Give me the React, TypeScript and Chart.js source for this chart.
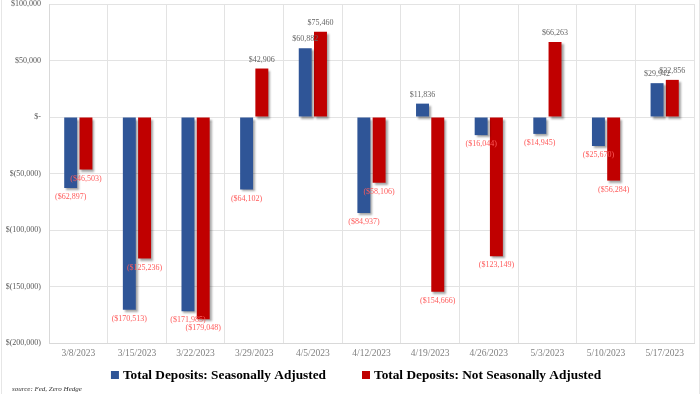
import React, { useEffect, useRef } from "react";
import { Chart, registerables } from "chart.js";

Chart.register(...registerables);

const categories = ["3/8/2023", "3/15/2023", "3/22/2023", "3/29/2023", "4/5/2023", "4/12/2023", "4/19/2023", "4/26/2023", "5/3/2023", "5/10/2023", "5/17/2023"];
const seasonallyAdjusted = [-62897, -170513, -171985, -64102, 60882, -84937, 11836, -16044, -14945, -25670, 29942];
const notSeasonallyAdjusted = [-46503, -125236, -179048, 42906, 75460, -58106, -154666, -123149, 66263, -56284, 32856];
const seriesNames = ["Total Deposits: Seasonally Adjusted", "Total Deposits: Not Seasonally Adjusted"];
const seriesColors = ["#2F5597", "#C00000"];
const sourceText = "source: Fed, Zero Hedge";

const SERIF = "'Liberation Serif', 'DejaVu Serif', serif";

const fmtTick = (v: number) => {
  if (v === 0) return "$-";
  const s = Math.abs(v).toLocaleString("en-US");
  return v < 0 ? `$(${s})` : `$${s}`;
};
const fmtLabel = (v: number) => {
  const s = Math.abs(v).toLocaleString("en-US");
  return v < 0 ? `($${s})` : `$${s}`;
};

const shadowPlugin = {
  id: "barShadow",
  beforeDatasetsDraw(chart: any) {
    const ctx = chart.ctx;
    ctx.save();
    ctx.shadowColor = "rgba(0,0,0,0.35)";
    ctx.shadowOffsetX = 2;
    ctx.shadowOffsetY = 2;
    ctx.shadowBlur = 2;
  },
  afterDatasetsDraw(chart: any) {
    chart.ctx.restore();
  },
};

const labelPlugin = {
  id: "valueLabels",
  afterDraw(chart: any) {
    const ctx = chart.ctx;
    ctx.save();
    ctx.font = `8px ${SERIF}`;
    ctx.textAlign = "center";
    ctx.textBaseline = "middle";
    chart.data.datasets.forEach((ds: any, di: number) => {
      const meta = chart.getDatasetMeta(di);
      meta.data.forEach((el: any, i: number) => {
        const v = ds.data[i];
        const y = v < 0 ? el.y + 9 : el.y - 9;
        ctx.fillStyle = v < 0 ? "#FF5B5B" : "#666666";
        ctx.fillText(fmtLabel(v), el.x, y);
      });
    });
    // legend
    ctx.font = `bold 13.3px ${SERIF}`;
    ctx.textAlign = "left";
    ctx.textBaseline = "middle";
    const box = 8;
    const gap = 4;
    const itemGap = 36;
    const widths = seriesNames.map((n) => box + gap + ctx.measureText(n).width);
    const total = widths[0] + widths[1] + itemGap;
    let x = (chart.width - total) / 2 + 6;
    const ly = 375;
    seriesNames.forEach((n, i) => {
      ctx.fillStyle = seriesColors[i];
      ctx.fillRect(x, ly - box / 2, box, box);
      ctx.fillStyle = "#000000";
      ctx.fillText(n, x + box + gap, ly + 1);
      x += widths[i] + itemGap;
    });
    // source
    ctx.font = `italic 7px ${SERIF}`;
    ctx.fillStyle = "#333333";
    ctx.fillText(sourceText, 12, 389);
    ctx.restore();
  },
};

export default function App() {
  const ref = useRef<HTMLCanvasElement>(null);
  useEffect(() => {
    if (!ref.current) return;
    const chart = new Chart(ref.current, {
      type: "bar",
      data: {
        labels: categories,
        datasets: [
          { label: seriesNames[0], data: seasonallyAdjusted, backgroundColor: seriesColors[0], categoryPercentage: 0.52, barPercentage: 0.85 },
          { label: seriesNames[1], data: notSeasonallyAdjusted, backgroundColor: seriesColors[1], categoryPercentage: 0.52, barPercentage: 0.85 },
        ],
      },
      options: {
        animation: false,
        responsive: false,
        maintainAspectRatio: false,
        layout: { padding: { top: 4, right: 6, bottom: 31, left: 0 } },
        plugins: { legend: { display: false }, tooltip: { enabled: false } },
        scales: {
          x: {
            grid: { color: "#E3E3E3", offset: true, drawTicks: false },
            border: { color: "#D9D9D9" },
            ticks: { color: "#808080", font: { family: SERIF, size: 9.5 }, padding: 5, maxRotation: 0 },
            afterFit: (s: any) => { s.height = 20; s.paddingLeft = 0; s.paddingRight = 0; },
          },
          y: {
            min: -200000,
            max: 100000,
            grid: { color: "#E3E3E3", drawTicks: false },
            border: { color: "#D9D9D9" },
            ticks: { stepSize: 50000, color: "#595959", font: { family: SERIF, size: 8 }, padding: 8, callback: (v: any) => fmtTick(Number(v)) },
            afterFit: (s: any) => { s.width = 49; s.paddingTop = 0; s.paddingBottom = 0; },
          },
        },
      },
      plugins: [shadowPlugin, labelPlugin],
    });
    return () => chart.destroy();
  }, []);
  return (
    <div style={{ position: "absolute", left: 0, top: 0, width: 700, height: 394, background: "#fff" }}>
      <canvas ref={ref} width={700} height={394} style={{ display: "block" }} />
      <div style={{ position: "absolute", left: 1, top: 0, width: 697, height: 394, borderLeft: "1px solid #E6E6E6", borderRight: "1px solid #E6E6E6", pointerEvents: "none" }} />
    </div>
  );
}
